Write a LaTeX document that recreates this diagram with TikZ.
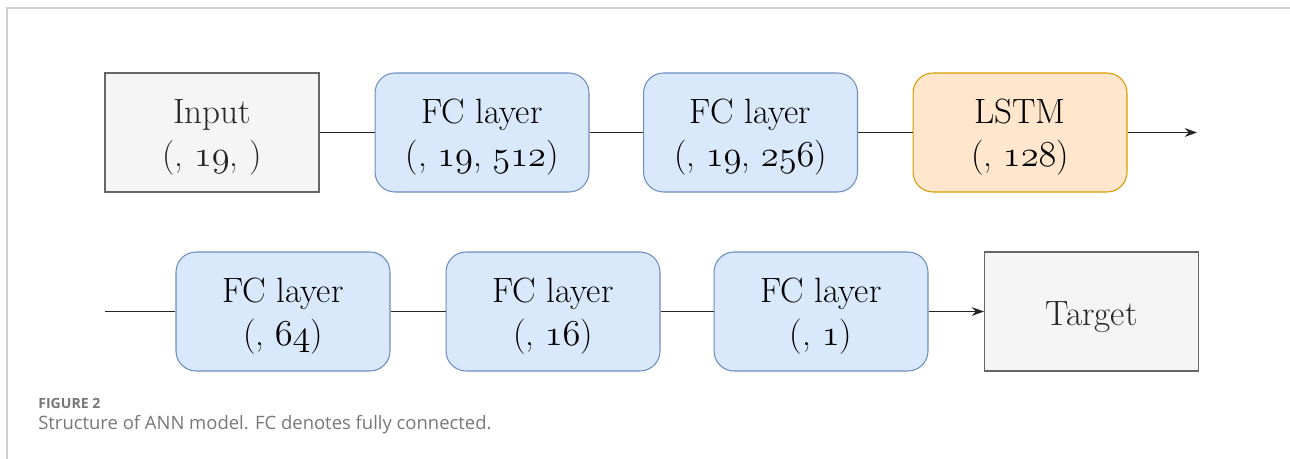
\documentclass[tikz,border=0pt]{standalone}
\usepackage{fontspec}
\newfontfamily\capfont{Open Sans}
\usetikzlibrary{arrows.meta}
\definecolor{fcfill}{HTML}{DAE8FC}
\definecolor{fcline}{HTML}{6C8EBF}
\definecolor{lstmfill}{HTML}{FFE6CC}
\definecolor{lstmline}{HTML}{D79B00}
\definecolor{iofill}{HTML}{F5F5F5}
\definecolor{ioline}{HTML}{666666}
\definecolor{frameline}{HTML}{D0D0D0}
\definecolor{captext}{HTML}{777777}
% old style digits from the math italic font
\newcommand{\osn}[1]{$\mathnormal{#1}$}
\tikzset{
  layerbox/.style={minimum width=4.28cm, minimum height=2.38cm, align=center,
    font=\fontsize{20}{24}\selectfont, line width=0.6pt,
    text height=43.2pt, text depth=5pt},
  fcbox/.style={layerbox, rounded corners=0.4cm, fill=fcfill, draw=fcline},
  lstmbox/.style={layerbox, rounded corners=0.4cm, fill=lstmfill, draw=lstmline},
  iobox/.style={layerbox, fill=iofill, draw=ioline, text=black!85},
  link/.style={line width=0.6pt, black!85}
}
\begin{document}
\begin{tikzpicture}[x=0.02cm, y=-0.02cm, >={Stealth[length=7pt,width=5pt]}]
  \useasboundingbox (0,0) rectangle (1290,459);
  % frame
  \draw[frameline, line width=0.9pt] (7,459) -- (7,8) -- (1290,8);

  % Top row
  \node[iobox] (input) at (212,132.5) {Input\\(, \osn{19}, )};
  \node[fcbox] (fcA) at (482,132.5) {FC layer\\(, \osn{19}, \osn{512})};
  \node[fcbox] (fcB) at (750.5,132.5) {FC layer\\(, \osn{19}, \osn{256})};
  \node[lstmbox] (lstm) at (1020,132.5) {LSTM\\(, \osn{128})};
  \coordinate (topend) at (1197,132.5);

  \draw[link] (input) -- (fcA);
  \draw[link] (fcA) -- (fcB);
  \draw[link] (fcB) -- (lstm);
  \draw[link, ->] (lstm) -- (topend);

  % Bottom row
  \coordinate (botstart) at (105,311.5);
  \node[fcbox] (fcC) at (283,311.5) {FC layer\\(, \osn{64})};
  \node[fcbox] (fcD) at (553,311.5) {FC layer\\(, \osn{16})};
  \node[fcbox] (fcE) at (821,311.5) {FC layer\\(, \osn{1})};
  \node[iobox, text height=19.6pt, text depth=4pt] (target) at (1091.5,311.5) {Target};

  \draw[link] (botstart) -- (fcC);
  \draw[link] (fcC) -- (fcD);
  \draw[link] (fcD) -- (fcE);
  \draw[link, ->] (fcE) -- (target);

  % caption
  \node[anchor=base west, inner sep=0pt, text=captext, font=\capfont\bfseries\fontsize{8}{10}\selectfont]
    (figlabel) at (38,408) {FIGURE 2};
  \node[anchor=base west, inner sep=0pt, text=captext, font=\capfont\fontsize{10.5}{12}\selectfont]
    (figtext) at (38,429) {Structure of ANN model. FC denotes fully connected.};
\end{tikzpicture}
\end{document}
